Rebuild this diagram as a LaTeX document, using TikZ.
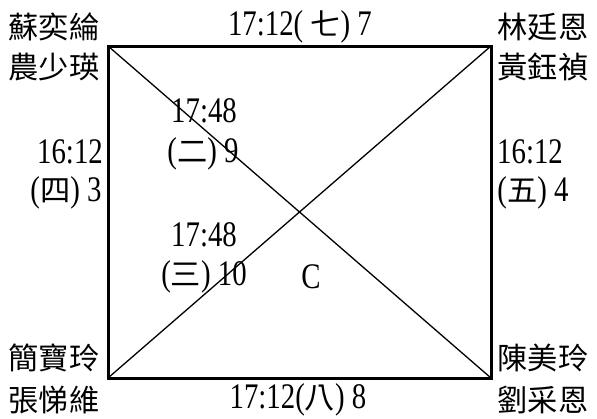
\documentclass[tikz,border=0pt]{standalone}
\usepackage{fontspec}
\setmainfont{Liberation Serif}[FakeStretch=0.8]
\newfontfamily\cjk{Noto Sans CJK TC}[Scale=0.84]
\newcommand{\zh}[1]{{\cjk #1}}
\begin{document}
\begin{tikzpicture}[x=1pt,y=-1pt,
  lbl/.style={inner sep=0pt,font=\fontsize{36}{38}\selectfont},
  frame/.style={line width=3pt},
  diag/.style={line width=1.3pt}]
\useasboundingbox (0,0) rectangle (597,418);
\coordinate (tl) at (108,46);
\coordinate (tr) at (491,46);
\coordinate (br) at (491,378);
\coordinate (bl) at (108,378);
\draw[diag] (tl) -- (br);
\draw[diag] (tr) -- (bl);
\draw[frame] (tl) -- (tr) -- (br) -- (bl) -- cycle;
\node[lbl] (n1) at (54,27) {\zh{蘇奕綸}};
\node[lbl] (n2) at (54,67) {\zh{農少瑛}};
\node[lbl] (n3) at (543,27) {\zh{林廷恩}};
\node[lbl] (n4) at (543,67) {\zh{黃鈺禎}};
\node[lbl] (n5) at (54,358) {\zh{簡寶玲}};
\node[lbl] (n6) at (54,400) {\zh{張悌維}};
\node[lbl] (n7) at (543,358) {\zh{陳美玲}};
\node[lbl] (n8) at (543,400) {\zh{劉采恩}};
\node[lbl] (t1) at (300,27) {17:12( \zh{七}) 7};
\node[lbl] (t2) at (298,400) {17:12(\zh{八}) 8};
\node[lbl] (t3) at (204,111) {17:48};
\node[lbl] (t4) at (203,154) {(\zh{二}) 9};
\node[lbl] (t5) at (70,152) {16:12};
\node[lbl] (t6) at (66,193) {(\zh{四}) 3};
\node[lbl] (t7) at (204,235) {17:48};
\node[lbl] (t8) at (204,277) {(\zh{三}) 10};
\node[lbl] (t9) at (311,277) {C};
\node[lbl] (t10) at (530,152) {16:12};
\node[lbl] (t11) at (533,193) {(\zh{五}) 4};
\end{tikzpicture}
\end{document}
